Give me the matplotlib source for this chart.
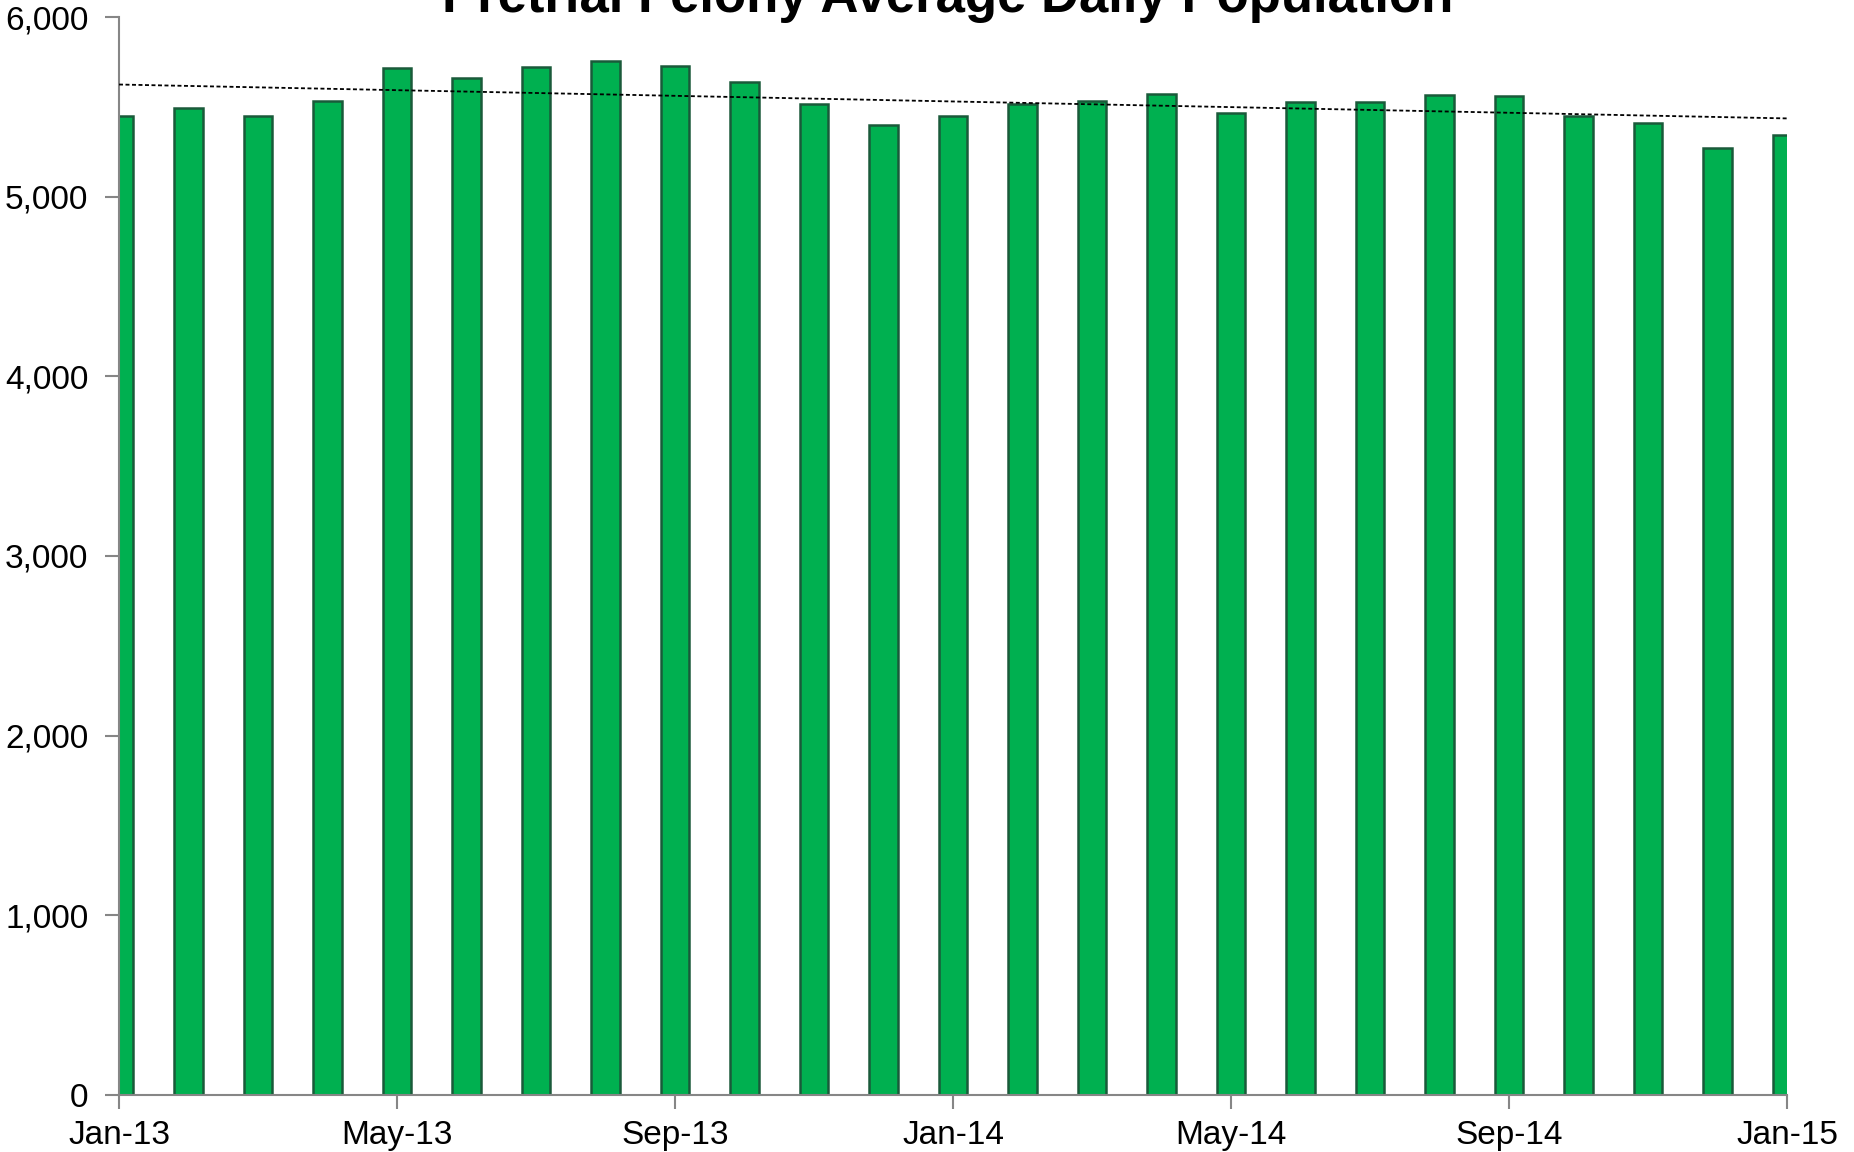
import numpy as np
import matplotlib
matplotlib.use("Agg")
import matplotlib.pyplot as plt
from matplotlib.ticker import FuncFormatter

months = ["Jan-13", "Feb-13", "Mar-13", "Apr-13", "May-13", "Jun-13", "Jul-13", "Aug-13",
          "Sep-13", "Oct-13", "Nov-13", "Dec-13", "Jan-14", "Feb-14", "Mar-14", "Apr-14",
          "May-14", "Jun-14", "Jul-14", "Aug-14", "Sep-14", "Oct-14", "Nov-14", "Dec-14",
          "Jan-15"]
population = [5453, 5493, 5453, 5532, 5717, 5664, 5723, 5756, 5730, 5638, 5519, 5401,
              5453, 5519, 5532, 5572, 5467, 5526, 5526, 5565, 5559, 5453, 5414, 5272,
              5345]
tick_labels = ["Jan-13", "May-13", "Sep-13", "Jan-14", "May-14", "Sep-14", "Jan-15"]
title = "Pretrial Felony Average Daily Population"

plt.rcParams['font.family'] = ['Liberation Sans', 'DejaVu Sans']

fig = plt.figure(figsize=(18.54, 11.52), dpi=100)
ax = fig.add_axes([119 / 1854, 1 - 1094.7 / 1152, (1787 - 119) / 1854, (1094.7 - 17.3) / 1152])

x = np.arange(len(months))
ax.bar(x, population, width=0.41, color="#00B050", edgecolor="#1A5A3A", linewidth=1.8,
       zorder=2)

coef = np.polyfit(x, population, 1)
xt = np.array([x[0], x[-1]])
ax.plot(xt, np.polyval(coef, xt), color="black", linestyle=(0, (2.2, 1.4)), linewidth=1.3,
        zorder=3)

ax.set_xlim(x[0], x[-1])
ax.set_ylim(0, 6000)
ax.set_yticks(np.arange(0, 6001, 1000))
ax.yaxis.set_major_formatter(FuncFormatter(lambda v, p: f"{int(v):,}"))
tick_pos = [months.index(t) for t in tick_labels]
ax.set_xticks(tick_pos)
ax.set_xticklabels(tick_labels)

for s in ["top", "right"]:
    ax.spines[s].set_visible(False)
for s in ["left", "bottom"]:
    ax.spines[s].set_color("#868686")
    ax.spines[s].set_linewidth(1.5)
ax.tick_params(axis="both", colors="#868686", width=1.5, length=10, labelsize=24,
               labelcolor="black")
ax.tick_params(axis="x", pad=8)
ax.tick_params(axis="y", pad=12)

fig.text(0.511, 1 - 12 / 1152, title, ha="center", va="baseline", fontsize=38,
         fontweight="bold")

fig.savefig("out.png", dpi=100)
